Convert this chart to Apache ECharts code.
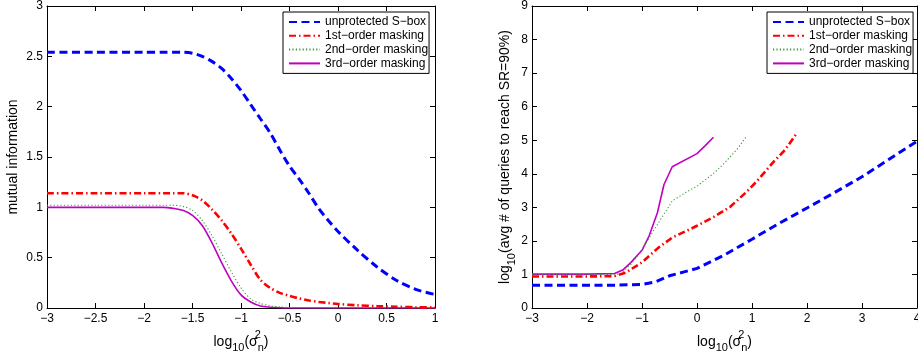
<!DOCTYPE html>
<html>
<head>
<meta charset="utf-8">
<script src="https://cdn.jsdelivr.net/npm/echarts@6/dist/echarts.min.js"></script>
<style>
  html, body { margin: 0; padding: 0; background: #fff; }
  #chart { width: 918px; height: 353px; }
</style>
</head>
<body>
<div id="chart"></div>
<script>
const NAMES = ['unprotected S\u2212box', '1st\u2212order masking', '2nd\u2212order masking', '3rd\u2212order masking'];
const COLORS = ['#0000ff', '#ff0000', '#3a9a3a', '#c000c0'];

// left panel: mutual information vs log10(sigma_n^2)
const xLeft = [-3, -2.5, -2, -1.8, -1.7, -1.6, -1.5, -1.4, -1.3, -1.2, -1.1, -1.0, -0.9, -0.8, -0.7, -0.6, -0.5, -0.4, -0.3, -0.2, -0.1, 0, 0.2, 0.4, 0.6, 0.8, 1.0];
const miUnprot = [2.54, 2.54, 2.54, 2.54, 2.54, 2.54, 2.53, 2.5, 2.45, 2.38, 2.28, 2.16, 2.02, 1.88, 1.74, 1.57, 1.41, 1.28, 1.14, 0.99, 0.87, 0.76, 0.575, 0.41, 0.276, 0.185, 0.135];
const miFirst = [1.14, 1.14, 1.14, 1.14, 1.14, 1.14, 1.12, 1.07, 0.98, 0.87, 0.74, 0.59, 0.43, 0.28, 0.2, 0.15, 0.12, 0.095, 0.075, 0.06, 0.05, 0.04, 0.027, 0.018, 0.012, 0.008, 0.005];
const miSecond = [1.02, 1.02, 1.02, 1.02, 1.02, 1.01, 0.97, 0.87, 0.72, 0.54, 0.36, 0.2, 0.09, 0.045, 0.022, 0.011, 0.005, 0.002, 0.001, 0, 0, 0, 0, 0, 0, 0, 0];
const miThird = [1.0, 1.0, 1.0, 1.0, 0.99, 0.97, 0.92, 0.82, 0.65, 0.45, 0.27, 0.13, 0.06, 0.02, 0.008, 0.002, 0, 0, 0, 0, 0, 0, 0, 0, 0, 0, 0];

// right panel: log10(avg # of queries to reach SR=90%)
const xQUnprot = [-3, -2, -1.5, -1, -0.75, -0.5, -0.25, 0, 0.5, 1, 1.5, 2, 2.5, 3, 3.5, 4];
const qUnprot = [0.68, 0.68, 0.68, 0.7, 0.78, 0.96, 1.07, 1.18, 1.58, 2.05, 2.53, 2.98, 3.44, 3.91, 4.44, 4.97];
const xQFirst = [-3, -2, -1.5, -1.3, -1, -0.7, -0.45, -0.1, 0, 0.3, 0.6, 0.9, 1.1, 1.4, 1.6, 1.8];
const qFirst = [0.94, 0.94, 0.95, 1.05, 1.36, 1.8, 2.1, 2.37, 2.45, 2.71, 3.01, 3.46, 3.8, 4.37, 4.71, 5.18];
const xQSecond = [-3, -2, -1.4, -1.2, -1, -0.8, -0.6, -0.45, -0.2, 0, 0.3, 0.5, 0.75, 0.9];
const qSecond = [0.99, 0.99, 1.01, 1.3, 1.74, 2.28, 2.8, 3.19, 3.45, 3.63, 4.01, 4.32, 4.77, 5.12];
const xQThird = [-3, -2, -1.5, -1.35, -1.2, -1.0, -0.87, -0.72, -0.6, -0.45, 0, 0.15, 0.3];
const qThird = [1.01, 1.01, 1.03, 1.13, 1.36, 1.72, 2.15, 2.84, 3.68, 4.21, 4.6, 4.84, 5.09];

const LINE_STYLES = [
  { width: 3, type: [8, 4.5] },
  { width: 2.6, type: [7, 3, 1.5, 3] },
  { width: 1.1, type: [1.2, 2.2] },
  { width: 1.6, type: 'solid' }
];

const FONT = 'Liberation Sans, Arial, Helvetica, sans-serif';
const minus = v => String(v).replace('-', '\u2212');

const xName = '{a|log}{s|10}{a|(\u03c3}{p|2}{s|n}{a|)}';
const nameRich = {
  a: { fontSize: 14, fontFamily: FONT, color: '#000', lineHeight: 24 },
  s: { fontSize: 11, fontFamily: FONT, color: '#000', lineHeight: 24, verticalAlign: 'bottom' },
  p: { fontSize: 11, fontFamily: FONT, color: '#000', lineHeight: 24, verticalAlign: 'top', width: 0 }
};

function xAxes(grid, min, max, step) {
  const base = {
    gridIndex: grid, type: 'value', min, max, interval: step,
    axisLine: { show: true, onZero: false, lineStyle: { color: '#000', width: 1 } },
    axisTick: { show: true, inside: true, length: 5, lineStyle: { color: '#000' } },
    splitLine: { show: false }
  };
  return [
    Object.assign({}, base, {
      position: 'bottom',
      axisLabel: { show: true, color: '#000', fontSize: 12, fontFamily: FONT, margin: 5, formatter: minus },
      name: xName, nameLocation: 'middle', nameGap: 15,
      nameTextStyle: { rich: nameRich }
    }),
    Object.assign({}, base, { position: 'top', axisLabel: { show: false } })
  ];
}

function yAxes(grid, min, max, step, name, gap) {
  const base = {
    gridIndex: grid, type: 'value', min, max, interval: step,
    axisLine: { show: true, onZero: false, lineStyle: { color: '#000', width: 1 } },
    axisTick: { show: true, inside: true, length: 5, lineStyle: { color: '#000' } },
    splitLine: { show: false }
  };
  return [
    Object.assign({}, base, {
      position: 'left',
      axisLabel: { show: true, color: '#000', fontSize: 12, fontFamily: FONT, margin: 4, formatter: minus },
      name, nameLocation: 'middle', nameGap: gap,
      nameTextStyle: { rich: nameRich }
    }),
    Object.assign({}, base, { position: 'right', axisLabel: { show: false } })
  ];
}

function pairs(xs, ys) {
  return xs.map((x, i) => [x, ys[i]]);
}

function makeSeries(k, data, xi, yi, smooth) {
  return {
    name: NAMES[k], type: 'line', xAxisIndex: xi, yAxisIndex: yi,
    data, symbol: 'none', smooth, clip: true,
    lineStyle: Object.assign({ color: COLORS[k] }, LINE_STYLES[k]),
    itemStyle: { color: COLORS[k] },
    z: 10 - k
  };
}

function makeLegend(left) {
  return {
    left, top: 12, orient: 'vertical', data: NAMES, selectedMode: false,
    backgroundColor: '#fff', borderColor: '#000', borderWidth: 1,
    padding: [4, 1, 4, 5], itemWidth: 31, itemHeight: 14, itemGap: 1.8,
    itemStyle: { opacity: 0 },
    textStyle: { color: '#000', fontSize: 12, fontFamily: FONT }
  };
}

const chart = echarts.init(document.getElementById('chart'), null, { renderer: 'canvas' });
chart.setOption({
  animation: false,
  backgroundColor: '#fff',
  textStyle: { fontFamily: FONT },
  grid: [
    { left: 47, top: 6, width: 388, height: 302, outerBoundsMode: 'none', containLabel: false },
    { left: 532, top: 6, width: 385, height: 302, outerBoundsMode: 'none', containLabel: false }
  ],
  xAxis: [].concat(xAxes(0, -3, 1, 0.5), xAxes(1, -3, 4, 1)),
  yAxis: [].concat(
    yAxes(0, 0, 3, 0.5, '{a|mutual information}', 22),
    yAxes(1, 0, 9, 1, '{a|log}{s|10}{a|(avg # of queries to reach SR=90%)}', 14)
  ),
  legend: [makeLegend(283), makeLegend(767)],
  series: [
    makeSeries(0, pairs(xLeft, miUnprot), 0, 0, 0.3),
    makeSeries(1, pairs(xLeft, miFirst), 0, 0, 0.3),
    makeSeries(2, pairs(xLeft, miSecond), 0, 0, 0.3),
    makeSeries(3, pairs(xLeft, miThird), 0, 0, 0.3),
    makeSeries(0, pairs(xQUnprot, qUnprot), 2, 2, false),
    makeSeries(1, pairs(xQFirst, qFirst), 2, 2, false),
    makeSeries(2, pairs(xQSecond, qSecond), 2, 2, false),
    makeSeries(3, pairs(xQThird, qThird), 2, 2, false)
  ]
});
</script>
</body>
</html>
